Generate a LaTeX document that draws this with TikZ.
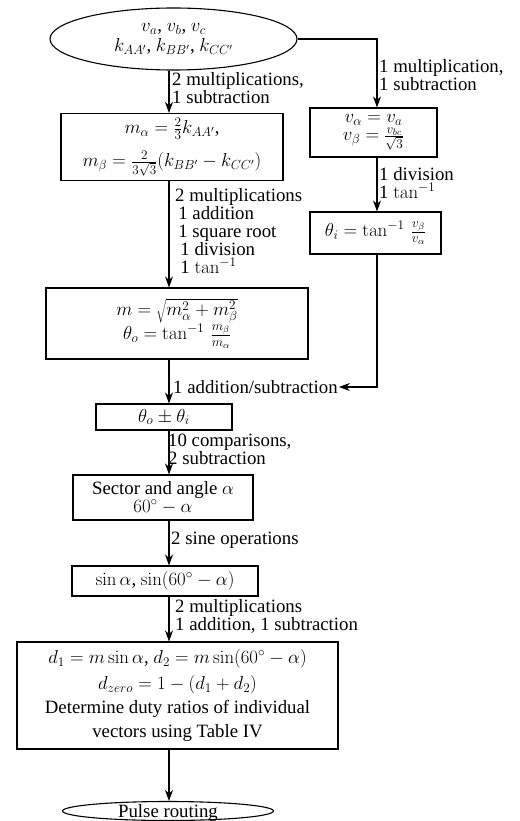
\RequirePackage{fix-cm}
\documentclass[tikz,border=0pt]{standalone}
\usepackage[no-math]{fontspec}
\setmainfont{Liberation Serif}
\usetikzlibrary{shapes.geometric,arrows.meta}
\begin{document}
\begin{tikzpicture}[x=1pt,y=-1pt,
  every node/.style={font=\fontsize{18.8}{18}\selectfont},
  box/.style={draw,line width=1.1pt,inner sep=0pt,align=center},
  oval/.style={draw,ellipse,line width=1.1pt,inner sep=0pt,align=center},
  lab/.style={anchor=west,align=left,inner sep=1pt},
  arr/.style={line width=1.1pt,-{Stealth[length=11pt,width=8pt,inset=3.5pt]}}]
\useasboundingbox (0,0) rectangle (519,821);

\node[oval,minimum width=247pt,minimum height=62pt] (top) at (173.5,39)
  {$v_a$, $v_b$, $v_c$\\[2pt]$k_{AA'}$, $k_{BB'}$, $k_{CC'}$};
\node[box,minimum width=222pt,minimum height=67pt] (b1) at (172,147)
  {$m_\alpha = \frac{2}{3}k_{AA'}$,\\[10pt]$m_\beta = \frac{2}{3\sqrt{3}}(k_{BB'} - k_{CC'})$};
\node[box,minimum width=127pt,minimum height=49pt] (r1) at (373.5,132.5)
  {$v_\alpha = v_a$\\$v_\beta = \frac{v_{bc}}{\sqrt{3}}$};
\node[box,minimum width=131pt,minimum height=42pt] (r2) at (375.5,233)
  {$\theta_i = \tan^{-1}\,\frac{v_\beta}{v_\alpha}$};
\node[box,minimum width=262pt,minimum height=71pt] (b2) at (177,323.5)
  {$m = \sqrt{m_\alpha^2 + m_\beta^2}$\\$\theta_o = \tan^{-1}\,\frac{m_\beta}{m_\alpha}$};
\node[box,minimum width=136pt,minimum height=26pt] (b3) at (164,417)
  {$\theta_o \pm \theta_i$};
\node[box,minimum width=180pt,minimum height=45pt] (b4) at (163,497.5)
  {Sector and angle $\alpha$\\$60^\circ - \alpha$};
\node[box,minimum width=186pt,minimum height=30pt] (b5) at (165,581)
  {$\sin\alpha$, $\sin(60^\circ - \alpha)$};
\node[box,minimum width=321pt,minimum height=107pt] (b6) at (177.5,695.5)
  {$d_1 = m\sin\alpha$, $d_2 = m\sin(60^\circ - \alpha)$\\[6pt]$d_{zero} = 1 - (d_1 + d_2)$\\[6pt]Determine duty ratios of individual\\[6pt]vectors using Table IV};
\node[oval,minimum width=211pt,minimum height=19pt] (end) at (168,811)
  {\smash{\raisebox{-6pt}{Pulse routing}}};

\node[lab] (l1) at (171,88) {2 multiplications,\\1 subtraction};
\node[lab] (l2) at (378,75) {1 multiplication,\\1 subtraction};
\node[lab] (l3) at (378,183) {1 division\\1 $\tan^{-1}$};
\node[lab] (l4) at (174,231) {2 multiplications\\\,1 addition\\\,1 square root\\\;1 division\\\;1 $\tan^{-1}$};
\node[lab] (lad) at (172,387) {1 addition/subtraction};
\node[lab,font=\fontsize{18.8}{16}\selectfont] (l5) at (167,449.5) {10 comparisons,\\2 subtraction};
\node[lab] (l6) at (170,540) {2 sine operations};
\node[lab] (l7) at (174,616) {2 multiplications\\1 addition, 1 subtraction};

\coordinate (ax) at (169,0);
\coordinate (rx) at (377,0);
\draw[arr] (top.south -| ax) -- (b1.north -| ax);
\draw[arr] (b1.south -| ax) -- (b2.north -| ax);
\draw[arr] (b2.south -| ax) -- (b3.north -| ax);
\draw[arr] (b3.south -| ax) -- (b4.north -| ax);
\draw[arr] (b4.south -| ax) -- (b5.north -| ax);
\draw[arr] (b5.south -| ax) -- (b6.north -| ax);
\draw[arr] (b6.south -| ax) -- (end.north -| ax);
\draw[arr] (top.east) -| (r1.north -| rx);
\draw[arr] (r1.south -| rx) -- (r2.north -| rx);
\draw[arr] (r2.south -| rx) |- (lad.east);
\end{tikzpicture}
\end{document}
